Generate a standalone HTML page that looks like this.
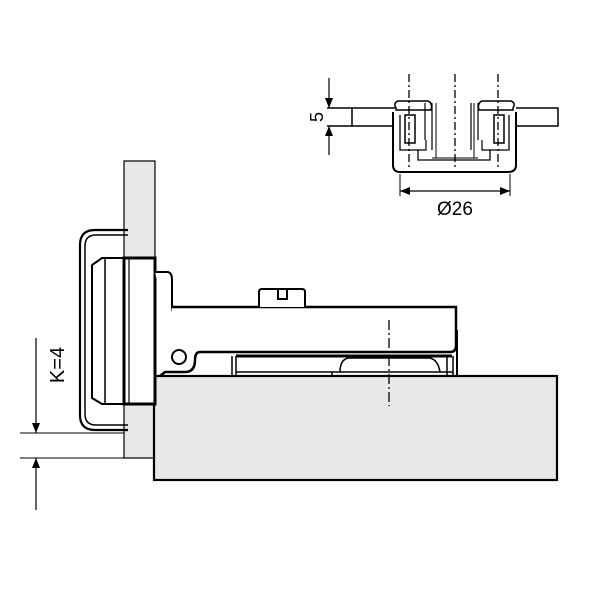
<!DOCTYPE html>
<html><head><style>body{margin:0;background:#fff}svg{display:block}</style></head><body>
<svg width="600" height="600" viewBox="0 0 600 600" xmlns="http://www.w3.org/2000/svg" font-family="Liberation Sans, sans-serif">
<defs>
<marker id="a" markerWidth="10" markerHeight="8" refX="10" refY="4" orient="auto" markerUnits="userSpaceOnUse"><path d="M0,0 L10,4 L0,8z" fill="#000"/></marker>
</defs>
<g stroke="#000" fill="none">
<rect x="124" y="161" width="31" height="297" fill="#e8e8ea" stroke-width="1.2"/>
<rect x="154" y="376" width="403" height="104" fill="#e8e8ea" stroke-width="2.2"/>
<path d="M128,230 H95 Q80,230 80,245 V415 Q80,430 95,430 H128" stroke-width="2.2"/>
<path d="M128,235 H96 Q85,235 85,246 V414 Q85,425 96,425 H128" stroke-width="1.5"/>
<path d="M102,258 H124 V404 H102 L92,398 V265 Z" fill="#fff" stroke-width="2"/>
<line x1="105" y1="258" x2="105" y2="404" stroke-width="1.5"/>
<rect x="124" y="258" width="31" height="146" fill="#fff" stroke-width="3"/>
<line x1="129" y1="258" x2="129" y2="404" stroke-width="1.2"/>
<path d="M155,272 H167 Q172,272 172,280 V350" stroke-width="2" fill="#fff"/>
<path d="M172,307 H456 V346 Q456,352 450,352 H200 Q195,352 195,360 Q195,372 185,372 H165 L160,376" fill="#fff" stroke-width="2.5"/>
<circle cx="179" cy="357" r="7" fill="#fff" stroke-width="2"/>
<line x1="457" y1="330" x2="457" y2="376" stroke-width="2"/>
<path d="M259,307 V292 Q259,289 262,289 H302 Q305,289 305,292 V307 M278,289 V299 H287 V289" fill="#fff" stroke-width="2"/>
<path d="M232,356 V376 M236,356 V376 M236,372 H453 M332,372 V376 M340,372 Q340,360 348,358 H430 Q438,360 440,372 M447,356 V376 M453,356 V376" stroke-width="1.5"/>
<line x1="236" y1="356" x2="452" y2="356" stroke-width="3"/>
<line x1="389" y1="320" x2="389" y2="406" stroke-width="1.3" stroke-dasharray="10,3,2,3"/>
<line x1="20" y1="433" x2="124" y2="433" stroke-width="1"/>
<line x1="20" y1="458" x2="155" y2="458" stroke-width="1"/>
<line x1="36" y1="338" x2="36" y2="433" stroke-width="1.2" marker-end="url(#a)"/>
<line x1="36" y1="510" x2="36" y2="458" stroke-width="1.2" marker-end="url(#a)"/>

<path d="M327,108 H395 M327,126 H392 M352,108 V126 M516,108 H558 V126 H516" stroke-width="1.5"/>
<path d="M393,112 V165 Q393,172 400,172 H508 Q516,172 516,165 V112" fill="#fff" stroke-width="2"/>
<path d="M396,108 Q393,103 398,101 H428 Q433,103 431,110 H396 Z M513,108 Q516,103 511,101 H482 Q477,103 479,110 H513 Z" fill="#fff" stroke-width="1.5"/>
<rect x="405" y="115" width="10" height="28" stroke-width="1.5"/>
<rect x="494" y="115" width="10" height="28" stroke-width="1.5"/>
<path d="M400,115 V150 H418 V160 H490 V150 H509 V115" stroke-width="1.3"/>
<path d="M425,103 V140 M432,103 V150 M478,103 V140 M471,103 V150 M418,150 H426 V140 M490,150 H482 V140" stroke-width="1.2"/>
<path d="M436,103 V158 M474,103 V158 M432,158 H478" stroke-width="1"/>
<g stroke-width="1.3" stroke-dasharray="8,3,2,3"><line x1="409" y1="74" x2="409" y2="170"/><line x1="455" y1="74" x2="455" y2="170"/><line x1="498" y1="74" x2="498" y2="170"/></g>
<line x1="400" y1="174" x2="400" y2="196" stroke-width="1"/>
<line x1="510" y1="174" x2="510" y2="196" stroke-width="1"/>
<line x1="455" y1="191" x2="400" y2="191" stroke-width="1.2" marker-end="url(#a)"/>
<line x1="455" y1="191" x2="510" y2="191" stroke-width="1.2" marker-end="url(#a)"/>
<line x1="329" y1="78" x2="329" y2="108" stroke-width="1.2" marker-end="url(#a)"/>
<line x1="329" y1="155" x2="329" y2="126" stroke-width="1.2" marker-end="url(#a)"/>
</g>
<text x="455" y="215" font-size="19" text-anchor="middle">Ø26</text>
<text transform="translate(323,117) rotate(-90)" font-size="18" text-anchor="middle">5</text>
<text transform="translate(64,365) rotate(-90)" font-size="20" text-anchor="middle">K=4</text>
</svg>
</body></html>
